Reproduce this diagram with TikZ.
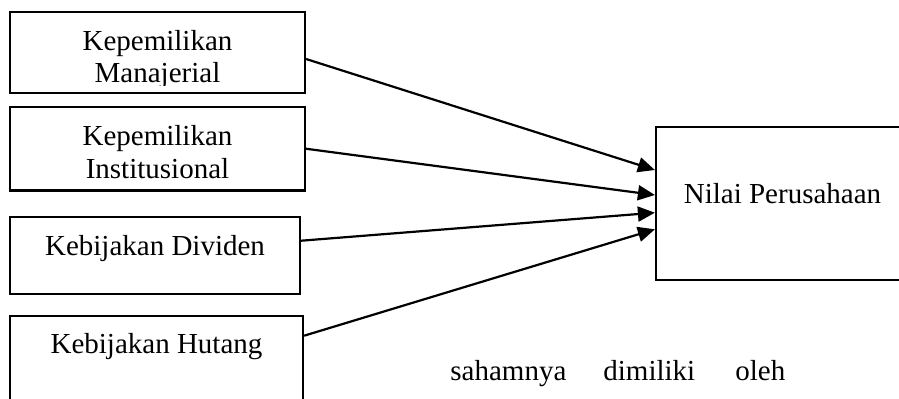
\documentclass[tikz,border=0pt]{standalone}
\usepackage{fontspec}
\setmainfont{Liberation Serif}
\usetikzlibrary{arrows.meta}
\begin{document}
\begin{tikzpicture}[x=0.5pt,y=-0.5pt,
  box/.style 2 args={draw, line width=1.1pt, inner sep=0pt, minimum width=#1, minimum height=#2},
  lbl/.style={font=\fontsize{14.5}{16.5}\selectfont, inner sep=0pt, anchor=base},
  word/.style={font=\fontsize{14.5}{16.5}\selectfont, inner sep=0pt, anchor=base west},
  arr/.style={line width=1.1pt, -{Triangle[length=8.5pt,width=7.5pt]}}]
\useasboundingbox (0,0) rectangle (899,398);
\clip (0,0) rectangle (899,398);
% boxes
\node[box={147.5pt}{40.5pt}] (m) at (157.5,52.5) {};
\node[box={147.5pt}{41.75pt}] (i) at (157.5,148.75) {};
\node[box={145pt}{38.5pt}] (d) at (155,255.5) {};
\node[box={146.5pt}{57pt}] (h) at (156.5,373) {};
\node[box={132pt}{76.5pt}] (n) at (788,203.5) {};
% labels
\node[lbl] (m1) at (157.5,50) {Kepemilikan};
\begin{scope}
\clip (10,12) rectangle (305,85);
\node[lbl] (m2) at (157.5,82) {Manajerial};
\end{scope}
\node[lbl] (i1) at (157.5,145) {Kepemilikan};
\node[lbl] (i2) at (157.5,178) {Institusional};
\node[lbl] (d1) at (155,255) {Kebijakan Dividen};
\node[lbl] (h1) at (156.5,353) {Kebijakan Hutang};
\node[lbl] (n1) at (782.5,203) {Nilai Perusahaan};
% body text
\node[word] (w1) at (450,380) {sahamnya};
\node[word] (w2) at (603,380) {dimiliki};
\node[word] (w3) at (735,380) {oleh};
% arrows
\draw[arr] ([yshift=-3.25pt]m.east) -- ([yshift=16.75pt]n.west);
\draw[arr] (i.east) -- ([yshift=4.25pt]n.west);
\draw[arr] ([yshift=7.4pt]d.east) -- ([yshift=-4.6pt]n.west);
\draw[arr] ([yshift=18.65pt]h.east) -- ([yshift=-12.9pt]n.west);
\end{tikzpicture}
\end{document}
